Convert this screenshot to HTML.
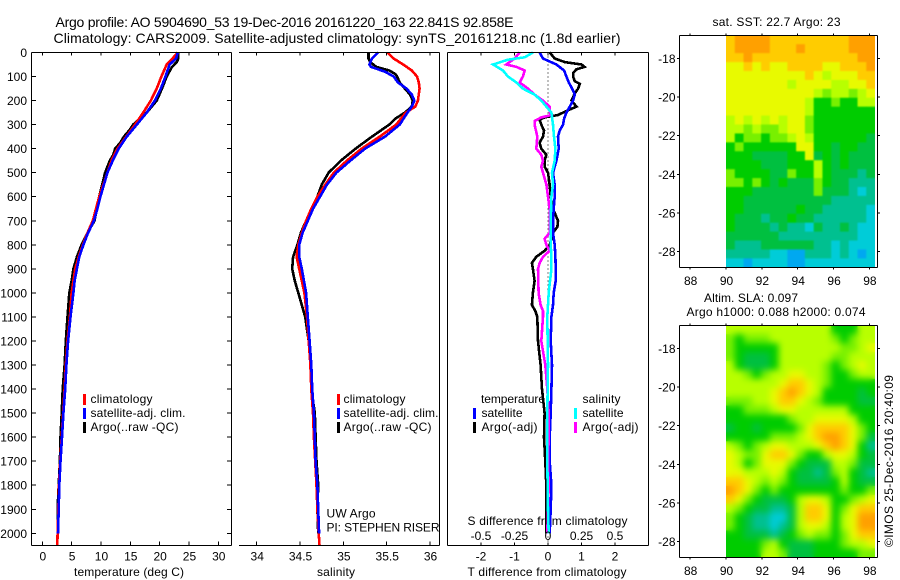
<!DOCTYPE html>
<html>
<head>
<meta charset="utf-8">
<title>Argo profile</title>
<style>
html,body{margin:0;padding:0;background:#fff;}
svg{display:block;font-family:"Liberation Sans",sans-serif;font-size:12px;fill:#000;}
text{fill:#000;}
</style>
</head>
<body>
<svg id="fig" xmlns="http://www.w3.org/2000/svg" width="900" height="580" viewBox="0 0 900 580">
<defs>
<filter id="slaSmooth" x="0" y="0" width="1" height="1" color-interpolation-filters="sRGB"><feGaussianBlur stdDeviation="3.4" result="b"/><feMerge><feMergeNode in="SourceGraphic"/><feMergeNode in="b"/></feMerge></filter>
<filter id="sstSmooth" x="0" y="0" width="1" height="1" color-interpolation-filters="sRGB"><feGaussianBlur stdDeviation="0.8" result="b"/><feMerge><feMergeNode in="SourceGraphic"/><feMergeNode in="b"/></feMerge></filter>
<clipPath id="clipSst"><rect x="726" y="35.5" width="149" height="232"/></clipPath>
<clipPath id="clipSla"><rect x="726" y="325.5" width="149" height="232"/></clipPath>
</defs>
<text x="55.5" y="27" font-size="14" textLength="458">Argo profile: AO 5904690_53 19-Dec-2016 20161220_163 22.841S 92.858E</text>
<text x="53.5" y="43" font-size="14" textLength="567">Climatology: CARS2009. Satellite-adjusted climatology: synTS_20161218.nc (1.8d earlier)</text>
<text x="74" y="576" textLength="110">temperature (deg C)</text>
<text x="317" y="576" textLength="38">salinity</text>
<text x="467.5" y="576" textLength="159">T difference from climatology</text>
<text x="467.5" y="525" textLength="160">S difference from climatology</text>
<text x="326.5" y="517.5" textLength="49">UW Argo</text>
<text x="326.5" y="531.5" textLength="113">PI: STEPHEN RISER</text>
<text x="712.5" y="26" textLength="128">sat. SST: 22.7 Argo: 23</text>
<text x="704" y="302" textLength="94">Altim. SLA: 0.097</text>
<text x="686.5" y="316" textLength="179">Argo h1000: 0.088 h2000: 0.074</text>
<text transform="translate(893,547) rotate(-90)" textLength="172">©IMOS 25-Dec-2016 20:40:09</text>
<g id="plots"></g>
<g>
<rect x="83" y="394" width="3" height="11" fill="#f00"/>
<rect x="83" y="408" width="3" height="11" fill="#00f"/>
<rect x="83" y="422" width="3" height="11" fill="#000"/>
<text x="90.5" y="403" textLength="62">climatology</text>
<text x="90.5" y="417" textLength="95">satellite-adj. clim.</text>
<text x="90.5" y="431" textLength="88">Argo(..raw -QC)</text>
</g>
<g>
<rect x="337" y="394" width="3" height="11" fill="#f00"/>
<rect x="337" y="408" width="3" height="11" fill="#00f"/>
<rect x="337" y="422" width="3" height="11" fill="#000"/>
<text x="343.5" y="403" textLength="62">climatology</text>
<text x="343.5" y="417" textLength="95">satellite-adj. clim.</text>
<text x="343.5" y="431" textLength="88">Argo(..raw -QC)</text>
</g>
<g>
<text x="481" y="403" textLength="64">temperature</text>
<text x="582.5" y="403" textLength="38">salinity</text>
<rect x="473" y="408" width="3" height="11" fill="#00f"/>
<rect x="473" y="422" width="3" height="11" fill="#000"/>
<rect x="574" y="408" width="3" height="11" fill="#0ff"/>
<rect x="574" y="422" width="3" height="11" fill="#f0f"/>
<text x="481.5" y="417" textLength="41">satellite</text>
<text x="481.5" y="431" textLength="56">Argo(-adj)</text>
<text x="582.5" y="417" textLength="41">satellite</text>
<text x="582.5" y="431" textLength="56">Argo(-adj)</text>
</g>
</svg>
<script>
// ---------- chart data ----------
const depthTicks=[0,100,200,300,400,500,600,700,800,900,1000,1100,1200,1300,1400,1500,1600,1700,1800,1900,2000];
const tempTicks=[0,5,10,15,20,25,30];
const salTicks=[34,34.5,35,35.5,36];
const tDiffTicks=[-2,-1,0,1,2];
const sDiffTicks=[-0.5,-0.25,0,0.25,0.5];
const sDiffLabels=['-0.5','-0.25','0','0.25','0.5'];
const lonTicks=[88,90,92,94,96,98];
const latTicks=[-18,-20,-22,-24,-26,-28];

const tClimDepth=[0,25,50,100,150,200,250,300,350,400,450,500,600,700,750,800,850,900,1000,1100,1200,1300,1400,1500,1600,1700,1800,1900,2000,2050];
const tClim=[23.1,22.2,21.2,20.3,19.5,18.5,17.2,15.8,14.3,12.8,11.8,11.1,9.7,8.6,7.7,6.9,6.2,5.6,5.0,4.7,4.3,4.0,3.8,3.55,3.3,3.05,2.85,2.75,2.6,2.55];
const tSatDepth=[0,25,50,100,150,200,250,300,350,400,450,500,550,600,650,700,750,800,850,900,950,1000,1100,1200,1300,1400,1500,1600,1700,1800,1900,2000];
const tSat=[23.1,22.8,21.7,21.0,20.2,19.2,17.8,16.1,14.4,13.0,12.0,11.1,10.5,9.9,9.4,8.8,7.8,7.0,6.3,5.9,5.5,5.3,4.8,4.4,4.1,3.9,3.6,3.35,3.1,2.9,2.8,2.67];
const tArgoDepth=[0,25,40,60,100,150,200,250,300,325,350,375,400,425,450,500,600,700,750,800,850,900,950,1000,1100,1200,1300,1400,1500,1600,1700,1800,1900,2000];
const tArgo=[23.2,23.2,22.9,22.1,21.2,20.4,19.5,17.8,15.5,14.8,13.9,13.3,12.4,12.1,11.5,10.7,9.7,8.9,7.7,6.7,5.9,5.3,5.0,4.6,4.3,4.0,3.8,3.47,3.3,3.1,3.0,2.8,2.6,2.6];

const sClimDepth=[0,25,50,75,100,125,150,200,225,250,300,350,400,450,500,550,600,650,700,750,800,850,900,950,1000,1100,1200,1300,1400,1500,1600,1700,1800,1900,2000,2050];
const sClim=[35.51,35.58,35.69,35.79,35.85,35.87,35.88,35.86,35.83,35.72,35.61,35.42,35.21,35.04,34.89,34.79,34.70,34.63,34.57,34.52,34.48,34.46,34.49,34.52,34.55,34.58,34.60,34.62,34.63,34.65,34.66,34.675,34.69,34.70,34.715,34.725];
const sSatDepth=[0,25,50,60,80,100,125,150,175,200,225,250,300,350,400,450,500,550,600,650,700,750,800,850,900,1000,1100,1200,1300,1400,1500,1600,1700,1800,1900,2000];
const sSat=[35.40,35.33,35.30,35.32,35.48,35.58,35.63,35.73,35.79,35.82,35.79,35.74,35.65,35.48,35.25,35.08,34.92,34.81,34.73,34.65,34.59,34.53,34.49,34.49,34.52,34.57,34.59,34.61,34.63,34.64,34.66,34.67,34.68,34.70,34.71,34.72];
const sArgoDepth=[0,25,40,60,75,90,100,125,150,175,200,225,250,275,300,350,400,450,500,550,600,650,700,750,800,850,900,950,1000,1050,1100,1200,1300,1400,1500,1600,1700,1800,1900,2000];
const sArgo=[35.29,35.29,35.31,35.38,35.53,35.60,35.62,35.65,35.71,35.77,35.80,35.79,35.71,35.60,35.53,35.33,35.14,34.97,34.83,34.75,34.70,34.63,34.57,34.51,34.47,34.42,34.41,34.44,34.48,34.52,34.56,34.60,34.63,34.63,34.67,34.68,34.69,34.71,34.70,34.71];

const dtSatDepth=[0,25,50,75,100,125,150,175,200,225,250,275,300,325,350,400,450,500,550,600,650,700,750,800,850,900,950,1000,1050,1100,1200,1300,1400,1500,1600,1700,1800,1900,2000];
const dtSat=[-0.25,-0.15,0.25,0.48,0.55,0.62,0.72,0.80,0.75,0.65,0.55,0.48,0.45,0.35,0.30,0.32,0.25,0.15,0.20,0.20,0.17,0.15,0.15,0.20,0.22,0.23,0.23,0.17,0.15,0.10,0.08,0.12,0.10,0.08,0.05,0.05,0.10,0.08,0.05];
const dtArgoDepth=[0,25,40,50,60,70,85,100,120,130,150,170,200,225,240,260,270,280,300,325,350,375,400,425,450,475,500,550,600,650,700,725,750,800,825,850,875,900,950,1000,1050,1075,1100,1200,1300,1400,1500,1600,1700,1800,1900,2000];
const dtArgo=[0.05,0.20,0.50,1.00,1.09,0.85,0.75,0.75,0.80,0.95,0.90,0.80,0.70,0.85,0.60,0.30,-0.10,-0.25,-0.20,-0.12,-0.15,-0.25,-0.20,-0.05,-0.10,-0.10,0,0.05,0.08,0.15,0.30,0.28,0.15,0.05,-0.10,-0.35,-0.48,-0.45,-0.40,-0.45,-0.48,-0.38,-0.32,-0.30,-0.22,-0.18,-0.10,-0.12,-0.08,-0.05,-0.05,-0.05];
const dsSatDepth=[0,20,30,50,75,100,125,150,175,200,225,250,300,350,400,450,500,550,600,700,800,850,900,1000,1100,1300,1500,1700,1900,2000];
const dsSat=[-0.112,-0.174,-0.299,-0.41,-0.336,-0.299,-0.236,-0.187,-0.1,-0.05,-0.012,0.025,0.037,0.045,0.055,0.05,0.03,0.037,0.025,0.02,0.02,0.025,0.025,0.005,-0.005,0,-0.005,-0.005,0,0.005];
const dsArgoDepth=[0,25,50,60,75,100,125,150,175,200,225,250,260,270,285,300,350,400,425,450,475,500,550,600,650,700,750,775,800,825,850,875,900,1000,1050,1075,1100,1200,1300,1400,1500,1600,1700,1800,1900,2000];
const dsArgo=[-0.211,-0.249,-0.311,-0.236,-0.174,-0.187,-0.211,-0.149,-0.1,-0.037,0.012,0.012,0.025,-0.05,-0.1,-0.1,-0.08,-0.087,-0.05,-0.037,-0.05,-0.037,-0.012,0,0.012,0.012,0.012,-0.025,-0.012,0.012,-0.037,-0.062,-0.075,-0.07,-0.055,-0.037,-0.037,-0.05,-0.02,-0.005,0.005,0.005,0,0.005,0,-0.005];

// map cells: colour-class level 0 (blue) .. 9 (orange); rows north to south, columns west to east
const sstLevels=[
[8,9,9,9,9,8,8,8,8,8,8,8,8,8,9,9,9],
[8,9,9,9,9,8,8,8,9,8,8,8,8,8,9,9,9],
[8,8,9,8,8,8,8,8,8,8,8,8,8,8,8,9,9],
[7,7,8,7,8,7,7,8,8,8,8,7,7,8,8,8,9],
[7,7,7,7,7,7,7,7,7,8,7,6,7,7,7,8,8],
[7,7,7,7,7,7,7,6,7,7,7,7,6,6,7,7,8],
[7,7,7,7,7,7,7,7,7,7,6,5,6,6,5,6,7],
[7,7,7,7,7,7,7,7,7,6,4,4,5,4,4,6,6],
[7,7,7,7,7,7,7,7,7,6,4,4,4,4,4,4,4],
[6,7,6,7,6,7,6,7,7,5,4,4,4,4,4,4,4],
[6,6,5,6,5,5,6,7,7,5,4,4,4,4,4,4,4],
[6,4,5,5,4,5,5,6,7,6,4,4,4,4,4,4,3],
[4,5,4,4,4,4,4,4,7,7,4,4,3,4,4,3,3],
[4,4,4,3,3,3,3,4,4,7,3,4,3,4,3,3,3],
[4,4,4,4,3,3,3,4,4,4,6,4,3,4,3,3,3],
[5,4,4,4,4,3,3,5,4,4,6,4,3,3,3,2,3],
[5,5,4,5,4,3,4,3,3,3,5,4,3,3,2,2,2],
[4,4,4,3,3,3,3,3,3,3,5,3,3,3,2,1,2],
[4,4,3,3,3,3,3,3,3,3,3,3,2,2,2,2,2],
[4,4,3,3,3,3,3,3,4,3,3,2,2,2,2,2,1],
[4,3,3,3,2,3,3,4,3,3,2,2,2,2,2,2,1],
[4,3,3,3,3,2,3,2,2,1,3,2,2,3,2,1,1],
[3,3,3,3,3,3,2,2,2,2,2,2,2,2,2,1,1],
[3,2,2,2,3,3,3,3,3,3,2,2,1,2,1,1,1],
[2,2,2,2,2,1,1,0,0,2,2,2,1,2,1,0,1],
[1,1,0,1,1,1,1,0,0,1,1,1,1,1,1,1,1]];
const slaLevels=[
[6,6,6,6,6,6,6,6,6,6,6,6,4,4,4,6,6],
[5,4,5,5,5,6,6,6,6,6,6,6,5,4,5,6,6],
[5,4,4,4,4,4,6,6,6,6,6,6,6,5,5,6,7],
[5,4,3,3,3,4,6,6,6,6,6,6,5,5,6,6,6],
[6,4,3,3,3,4,6,6,6,6,6,5,4,5,6,7,6],
[6,6,5,4,5,6,6,7,7,6,6,5,4,4,5,6,6],
[6,6,6,6,6,6,7,8,8,7,6,5,4,4,4,4,4],
[6,6,6,6,6,7,8,9,8,7,6,4,4,4,4,3,4],
[5,5,5,6,6,7,8,8,7,6,5,4,4,4,4,3,3],
[4,4,5,5,5,6,7,7,6,6,6,6,6,6,4,4,4],
[4,4,4,4,4,4,4,5,6,6,7,7,7,7,6,4,4],
[3,4,4,3,4,4,4,4,5,7,8,8,8,8,7,5,4],
[4,4,4,4,4,5,5,5,6,7,8,9,9,8,7,5,3],
[6,5,4,5,6,7,7,6,6,6,7,8,9,8,7,4,2],
[7,6,5,5,7,8,8,7,5,4,4,6,7,7,6,4,3],
[7,6,4,5,7,7,7,5,4,3,3,3,6,6,5,3,3],
[7,7,6,6,6,7,6,4,3,3,2,3,5,6,4,3,2],
[8,8,7,6,5,6,5,4,3,3,3,3,4,6,4,3,3],
[9,8,7,5,4,5,4,4,4,4,4,4,4,5,4,4,5],
[8,7,5,4,3,3,3,4,6,7,7,6,4,4,5,6,7],
[6,5,4,3,3,2,2,3,6,8,8,7,4,5,7,8,8],
[5,4,3,2,2,1,1,3,6,8,8,7,4,6,7,9,9],
[5,4,3,2,2,1,2,3,6,7,7,6,4,6,7,9,9],
[4,4,3,3,3,2,3,4,5,6,5,5,4,5,7,8,8],
[4,4,4,4,5,6,4,3,3,3,4,4,4,5,6,6,7],
[4,4,4,4,6,6,5,3,3,3,4,4,4,4,4,5,5]];

// ---------- scales and drawing ----------
const NS='http://www.w3.org/2000/svg';
const root=document.getElementById('plots');
const levelColors=['#00a8f0','#00ccd8','#00c090','#00c040','#00cc00','#78f000','#b8ff00','#e8fa00','#ffcc00','#ffa000'];
const yDepth=d=>52.5+d*0.2404;
const xTemp=t=>42.3+t*5.867;
const xSal=s=>256.7+(s-34)*86.67;
const xDT=d=>548+d*33.5;
const xDS=s=>548+s*134;
const xLon=l=>726+(l-90)*17.93;
const yLat1=l=>58.3+(-18-l)*19.33;
const yLat2=l=>348.3+(-18-l)*19.33;
const lonStart=90, lonStep=0.489, latStart=-16.81, latStep=0.4616;

function seg(x1,y1,x2,y2,name){
  const el=document.createElementNS(NS,'line');
  el.setAttribute('x1',x1);
  el.setAttribute('y1',y1);
  el.setAttribute('x2',x2);
  el.setAttribute('y2',y2);
  el.setAttribute('stroke','#000');
  el.setAttribute('stroke-width','1');
  el.setAttribute('shape-rendering','crispEdges');
  
  
  root.appendChild(el);
  return el;
}
function label(x,y,str,anchor,name){
  const el=document.createElementNS(NS,'text');
  el.setAttribute('x',x);
  el.setAttribute('y',y);
  el.setAttribute('text-anchor',anchor);
  el.textContent=str;
  
  
  root.appendChild(el);
}
function profile(depths,vals,xf,color,name,w){
  const el=document.createElementNS(NS,'polyline');
  el.setAttribute('points',depths.map((d,i)=>xf(vals[i]).toFixed(1)+','+yDepth(d).toFixed(1)).join(' '));
  el.setAttribute('fill','none');
  el.setAttribute('stroke',color);
  el.setAttribute('stroke-width',w||2.6);
  el.setAttribute('shape-rendering','crispEdges');
  
  
  root.appendChild(el);
}
function heatmap(levels,yf,name,clip,filt){
  const outer=document.createElementNS(NS,'g');
  outer.setAttribute('clip-path','url(#'+clip+')');
  
  
  const g=document.createElementNS(NS,'g');
  g.setAttribute('filter','url(#'+filt+')');
  
  
  outer.appendChild(g);
  root.appendChild(outer);
  levels.forEach((row,r)=>row.forEach((v,c)=>{
    const el=document.createElementNS(NS,'rect');
    const x0=xLon(lonStart+c*lonStep), x1=xLon(lonStart+(c+1)*lonStep);
    const y0=yf(latStart-r*latStep), y1=yf(latStart-(r+1)*latStep);
    el.setAttribute('x',x0.toFixed(2));
    el.setAttribute('y',y0.toFixed(2));
    el.setAttribute('width',(x1-x0+0.5).toFixed(2));
    el.setAttribute('height',(y1-y0+0.5).toFixed(2));
    el.setAttribute('fill',levelColors[v]);
    
    
    g.appendChild(el);
  }));
}

const TOP=52.5, BOT=545.5;

// temperature panel
profile(tArgoDepth,tArgo,xTemp,'#000','temperature-argo-line');
profile(tClimDepth,tClim,xTemp,'#f00','temperature-climatology-line');
profile(tSatDepth,tSat,xTemp,'#00f','temperature-satellite-line');
seg(31.5,TOP,231.5,TOP,'temperature-panel-top-axis');
seg(31.5,BOT,231.5,BOT,'temperature-panel-bottom-axis');
seg(31.5,TOP,31.5,BOT,'temperature-panel-left-axis');
seg(231.5,TOP,231.5,BOT,'temperature-panel-right-axis');
depthTicks.forEach(d=>{
  seg(31.5,yDepth(d),36,yDepth(d),'depth-tick-left');
  seg(227,yDepth(d),231.5,yDepth(d),'depth-tick-right');
  label(27,yDepth(d)+4.5,String(d),'end','depth-tick-label');
});
tempTicks.forEach(t=>{
  seg(xTemp(t),TOP,xTemp(t),TOP+3,'temperature-tick-top');
  seg(xTemp(t),BOT-4,xTemp(t),BOT,'temperature-tick-bottom');
  label(xTemp(t)+0.5,560.5,String(t),'middle','temperature-tick-label');
});

// salinity panel
profile(sArgoDepth,sArgo,xSal,'#000','salinity-argo-line');
profile(sClimDepth,sClim,xSal,'#f00','salinity-climatology-line');
profile(sSatDepth,sSat,xSal,'#00f','salinity-satellite-line');
seg(239,TOP,439.5,TOP,'salinity-panel-top-axis');
seg(239,BOT,439.5,BOT,'salinity-panel-bottom-axis');
seg(439.5,TOP,439.5,BOT,'salinity-panel-right-axis');
salTicks.forEach(s=>{
  seg(xSal(s),TOP,xSal(s),TOP+3,'salinity-tick-top');
  seg(xSal(s),BOT-4,xSal(s),BOT,'salinity-tick-bottom');
  label(xSal(s)+0.5,560.5,String(s),'middle','salinity-tick-label');
});

// difference panel
const zeroLine=seg(xDT(0),TOP,xDT(0),BOT,'zero-difference-line');
zeroLine.setAttribute('stroke-dasharray','1 3');
profile(dtArgoDepth,dtArgo,xDT,'#000','t-difference-argo-line');
profile(dtSatDepth,dtSat,xDT,'#00f','t-difference-satellite-line');
profile(dsArgoDepth,dsArgo,xDS,'#f0f','s-difference-argo-line');
profile(dsSatDepth,dsSat,xDS,'#0ff','s-difference-satellite-line');
seg(447.5,TOP,648.5,TOP,'difference-panel-top-axis');
seg(447.5,BOT,648.5,BOT,'difference-panel-bottom-axis');
seg(447.5,TOP,447.5,BOT,'difference-panel-left-axis');
seg(648.5,TOP,648.5,BOT,'difference-panel-right-axis');
tDiffTicks.forEach(t=>{
  seg(xDT(t),TOP,xDT(t),TOP+3,'t-difference-tick-top');
  seg(xDT(t),BOT-3,xDT(t),BOT,'t-difference-tick-bottom');
  label(xDT(t),560.5,String(t),'middle','t-difference-tick-label');
});
sDiffTicks.forEach((s,i)=>{
  label(xDS(s),540,sDiffLabels[i],'middle','s-difference-tick-label');
});

// maps
function mapAxes(levels,yf,top,bottom,labelY,prefix,clip,filt){
  heatmap(levels,yf,prefix+'-map',clip,filt);
  seg(679.5,top,877.5,top,prefix+'-map-top-axis');
  seg(679.5,bottom,877.5,bottom,prefix+'-map-bottom-axis');
  seg(679.5,top,679.5,bottom,prefix+'-map-left-axis');
  seg(877.5,top,877.5,bottom,prefix+'-map-right-axis');
  lonTicks.forEach(l=>{
    seg(xLon(l),top-2,xLon(l),top,prefix+'-lon-tick-top');
    seg(xLon(l),bottom,xLon(l),bottom+2,prefix+'-lon-tick-bottom');
    label(xLon(l)+0.5,labelY,String(l),'middle',prefix+'-lon-tick-label');
  });
  latTicks.forEach(l=>{
    seg(677,yf(l),679.5,yf(l),prefix+'-lat-tick-left');
    seg(877.5,yf(l),880,yf(l),prefix+'-lat-tick-right');
    label(675.5,yf(l)+4.5,String(l),'end',prefix+'-lat-tick-label');
  });
}
mapAxes(sstLevels,yLat1,35.5,267.5,285,'sst','clipSst','sstSmooth');
mapAxes(slaLevels,yLat2,325.5,557.5,575,'sla','clipSla','slaSmooth');
</script>
</body>
</html>
